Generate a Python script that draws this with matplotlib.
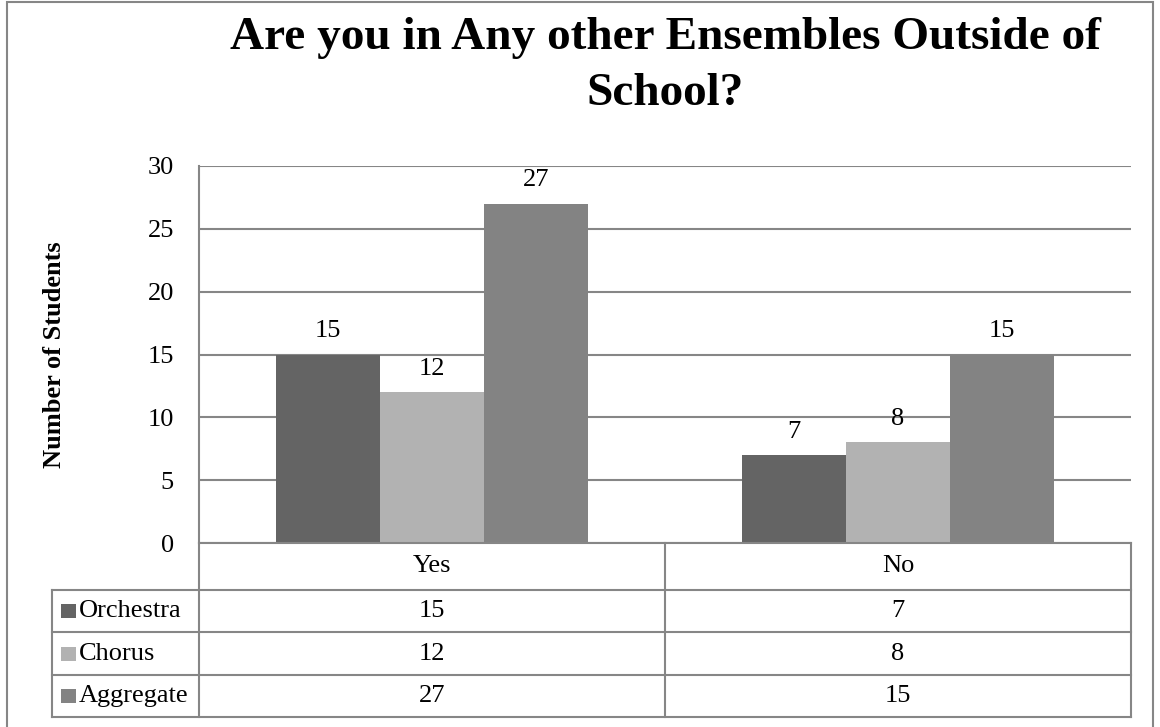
import matplotlib
matplotlib.use("Agg")
import matplotlib.pyplot as plt
from matplotlib.lines import Line2D
from matplotlib.patches import Rectangle

categories = ["Yes", "No"]
series_names = ["Orchestra", "Chorus", "Aggregate"]
orchestra = [15, 7]
chorus = [12, 8]
aggregate = [27, 15]
series_values = [orchestra, chorus, aggregate]
colors = ["#646464", "#b2b2b2", "#838383"]
yticks = [0, 5, 10, 15, 20, 25, 30]
title = "Are you in Any other Ensembles Outside of\nSchool?"
ylabel = "Number of Students"

plt.rcParams['font.family'] = ['Liberation Serif', 'DejaVu Serif']

W, H = 1160, 727
fig = plt.figure(figsize=(W / 100, H / 100), dpi=100)

def fx(px):
    return px / W

def fy(py):
    return 1 - py / H

left, right, top, bottom = 199, 1131, 166, 543
ax = fig.add_axes([fx(left), fy(bottom), fx(right) - fx(left), fy(top) - fy(bottom)])

FS = 19
grid_col = "#868686"
bw = 0.2225
n = len(series_names)
for i, (name, vals, c) in enumerate(zip(series_names, series_values, colors)):
    xs = [k + (i - (n - 1) / 2) * bw for k in range(len(categories))]
    bars = ax.bar(xs, vals, width=bw, color=c, zorder=3)
    for b, v in zip(bars, vals):
        ax.annotate(str(v), (b.get_x() + b.get_width() / 2, b.get_height()),
                    xytext=(0, 9), textcoords="offset points",
                    ha="center", va="bottom", fontsize=FS, color="black")

ax.set_xlim(-0.5, len(categories) - 0.5)
ax.set_ylim(0, 30)
ax.set_yticks(yticks)
ax.set_yticklabels([str(t) for t in yticks], fontsize=FS)
ax.tick_params(axis="y", length=0, pad=18)
ax.set_xticks([])
ax.yaxis.grid(True, color=grid_col, linewidth=1.5, zorder=0)
ax.set_axisbelow(True)
for s in ["top", "right", "bottom"]:
    ax.spines[s].set_visible(False)
ax.spines["left"].set_color(grid_col)
ax.spines["left"].set_linewidth(1.5)
ax.spines["left"].set_zorder(4)

# y label
fig.text(fx(55), fy(355), ylabel, rotation=90, ha="center", va="center",
         fontsize=FS, fontweight="bold")

# title
fig.text(fx(665), fy(17), title, ha="center", va="top", fontsize=34,
         fontweight="bold", linespacing=1.45)

# data table
row_lines = [543, 590, 632, 675, 717]
lab_left = 52
mid = (left + right) / 2

def hline(x0, x1, y):
    fig.add_artist(Line2D([fx(x0), fx(x1)], [fy(y), fy(y)], color=grid_col,
                          linewidth=1.5, transform=fig.transFigure))

def vline(x, y0, y1):
    fig.add_artist(Line2D([fx(x), fx(x)], [fy(y0), fy(y1)], color=grid_col,
                          linewidth=1.5, transform=fig.transFigure))

hline(left, right, row_lines[0])
for y in row_lines[1:]:
    hline(lab_left, right, y)
vline(left, row_lines[0], row_lines[-1])
vline(mid, row_lines[0], row_lines[-1])
vline(right, row_lines[0], row_lines[-1])
vline(lab_left, row_lines[1], row_lines[-1])

col_centers = [(left + mid) / 2, (mid + right) / 2]
yc = (row_lines[0] + row_lines[1]) / 2
for cx, cat in zip(col_centers, categories):
    fig.text(fx(cx), fy(yc), cat, ha="center", va="center", fontsize=FS)

for r, (name, vals, c) in enumerate(zip(series_names, series_values, colors)):
    y0, y1 = row_lines[r + 1], row_lines[r + 2]
    yc = (y0 + y1) / 2
    fig.add_artist(Rectangle((fx(61), fy(yc + 7)), fx(15), fy(yc - 7) - fy(yc + 7),
                             facecolor=c, edgecolor="none", transform=fig.transFigure))
    fig.text(fx(79), fy(yc), name, ha="left", va="center", fontsize=FS)
    for cx, v in zip(col_centers, vals):
        fig.text(fx(cx), fy(yc), str(v), ha="center", va="center", fontsize=FS)

# outer chart border
fig.add_artist(Rectangle((fx(7), fy(740)), fx(1153) - fx(7), fy(2) - fy(740),
                         facecolor="none", edgecolor=grid_col, linewidth=1.5,
                         transform=fig.transFigure))

fig.savefig("out.png", dpi=100)
